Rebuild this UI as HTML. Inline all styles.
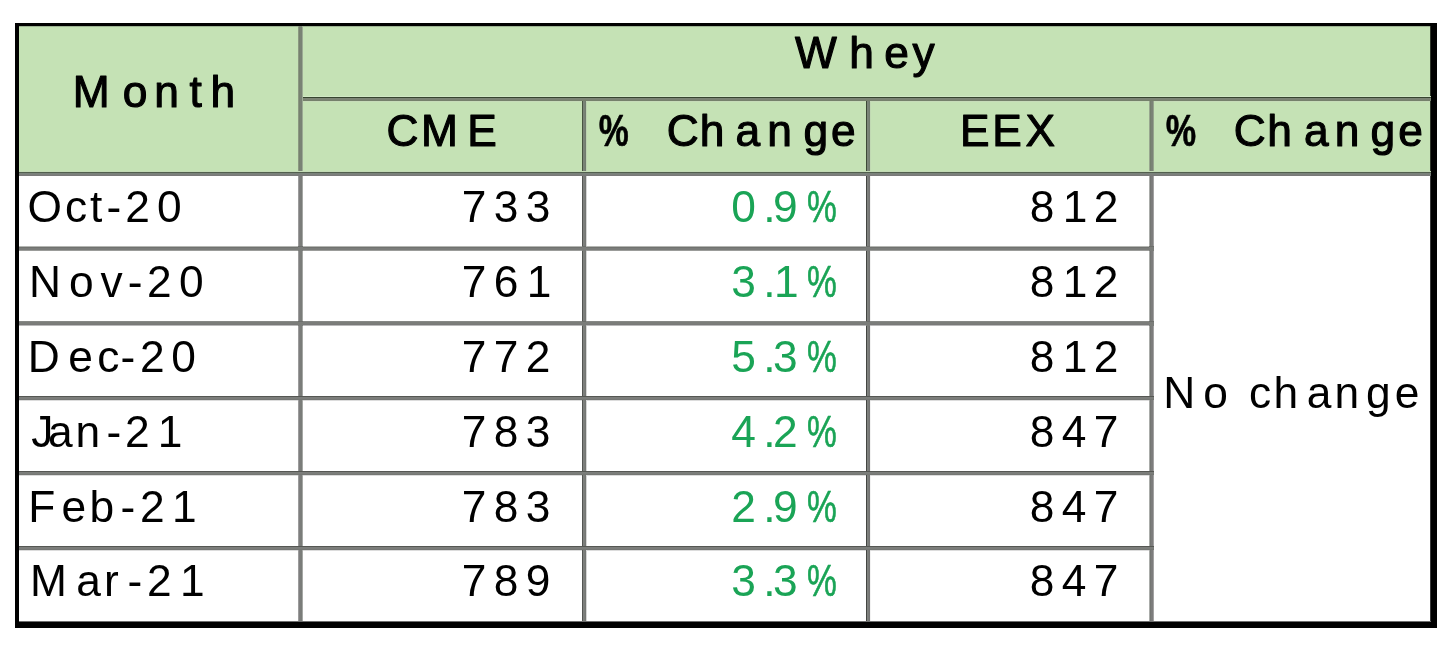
<!DOCTYPE html>
<html lang="en">
<head>
<meta charset="utf-8">
<title>Whey futures - CME vs EEX</title>
<style>
html,body{margin:0;padding:0;background:#fff}
body{width:1454px;height:647px;position:relative;overflow:hidden;
  font-family:"Liberation Sans",sans-serif;color:#000}
table{position:absolute;left:15px;top:23px;width:1422px;
  border-collapse:separate;border-spacing:0;table-layout:fixed;
  border-style:solid;border-color:#000;border-width:3px 6px 6px 4px;will-change:transform}
td,th{padding:0;margin:0;box-sizing:border-box;font-weight:normal;text-align:left;
  vertical-align:top;overflow:visible;line-height:0}
svg{display:block;overflow:visible}
text{font-family:"Liberation Sans",sans-serif;fill:#000;white-space:pre}
text.h{font-size:44.3px;stroke:#000;stroke-width:1.1px;stroke-linejoin:round}
text.m,text.n,text.p{font-size:44.3px}
text.p{fill:#1aa456}
.k1{width:284px;height:150px;background:linear-gradient(to bottom,#c3dab6 0px 1px,#525f4e 1px 2px,#7a827b 2px 3px,#7b7f7b 3px 4px,#7a7a7a 4px 5px) left bottom/100% 5px no-repeat,
    linear-gradient(to right,#8b9881 0px 1px,#77816f 1px 2px,#7a8275 2px 3px,#788274 3px 4px,#9caa94 4px 5px) right top/5px 100% no-repeat,
    linear-gradient(#9eb493,#9eb493) left top/100% 1px no-repeat,
    #c5e2b5}
.k2{width:1128px;height:75px;background:linear-gradient(to bottom,#d1e8c5 0px 1px,#36452f 1px 2px,#7c8474 2px 3px,#7a8272 3px 4px,#75806b 4px 5px) left bottom/100% 5px no-repeat,
    linear-gradient(#2f362b,#2f362b) right top/1px 100% no-repeat,
    linear-gradient(#9eb493,#9eb493) left top/100% 1px no-repeat,
    #c5e2b5}
.k3{width:283px;height:75px;background:linear-gradient(to bottom,#c3dab6 0px 1px,#525f4e 1px 2px,#7a827b 2px 3px,#7b7f7b 3px 4px,#7a7a7a 4px 5px) left bottom/100% 5px no-repeat,
    linear-gradient(to right,#475441 0px 1px,#7b8578 1px 2px,#788276 2px 3px,#727d6f 3px 4px) right top/4px 100% no-repeat,
    linear-gradient(#c7dcb9,#c7dcb9) left top/100% 1px no-repeat,
    #c5e2b5}
.k4{width:284px;height:75px;background:linear-gradient(to bottom,#c3dab6 0px 1px,#525f4e 1px 2px,#7a827b 2px 3px,#7b7f7b 3px 4px,#7a7a7a 4px 5px) left bottom/100% 5px no-repeat,
    linear-gradient(to right,#3c4936 0px 1px,#7c8679 1px 2px,#788276 2px 3px,#727d6f 3px 4px) right top/4px 100% no-repeat,
    linear-gradient(#c7dcb9,#c7dcb9) left top/100% 1px no-repeat,
    linear-gradient(#bdd3b1,#bdd3b1) left top/1px 100% no-repeat,
    #c5e2b5}
.k5{width:284px;height:75px;background:linear-gradient(to bottom,#c3dab6 0px 1px,#525f4e 1px 2px,#7a827b 2px 3px,#7b7f7b 3px 4px,#7a7a7a 4px 5px) left bottom/100% 5px no-repeat,
    linear-gradient(to right,#98a68f 0px 1px,#747e6d 1px 2px,#7a8275 2px 3px,#7b8376 3px 4px,#95a38c 4px 5px) right top/5px 100% no-repeat,
    linear-gradient(#c7dcb9,#c7dcb9) left top/100% 1px no-repeat,
    linear-gradient(#c1d9b3,#c1d9b3) left top/1px 100% no-repeat,
    #c5e2b5}
.k6{width:277px;height:75px;background:linear-gradient(to bottom,#c3dab6 0px 1px,#525f4e 1px 2px,#7a827b 2px 3px,#7b7f7b 3px 4px,#7a7a7a 4px 5px) left bottom/100% 5px no-repeat,
    linear-gradient(#2f362b,#2f362b) right top/1px 100% no-repeat,
    linear-gradient(#c7dcb9,#c7dcb9) left top/100% 1px no-repeat,
    #c5e2b5}
.k7{width:284px;height:75px;background:linear-gradient(to bottom,#6c6e6b 0px 1px,#7b7d7a 1px 5px) right bottom/5px 5px no-repeat,
    linear-gradient(to bottom,#b5b7b3 0px 1px,#70726f 1px 2px,#7b7d7a 2px 3px,#7b7d7a 3px 4px,#9b9c9a 4px 5px) left bottom/100% 5px no-repeat,
    linear-gradient(to right,#9c9c9c 0px 1px,#7e7e7e 1px 2px,#7b7d7a 2px 3px,#7a7c79 3px 4px,#a6a8a5 4px 5px) right top/5px 100% no-repeat,
    #fff}
.k8{width:283px;height:75px;background:linear-gradient(to bottom,#6c6e6b 0px 1px,#7b7d7a 1px 5px) right bottom/4px 5px no-repeat,
    linear-gradient(to bottom,#b5b7b3 0px 1px,#70726f 1px 2px,#7b7d7a 2px 3px,#7b7d7a 3px 4px,#9b9c9a 4px 5px) left bottom/100% 5px no-repeat,
    linear-gradient(to right,#535552 0px 1px,#7f817e 1px 2px,#7b7d7a 2px 3px,#757774 3px 4px) right top/4px 100% no-repeat,
    #fff}
.k9{width:284px;height:75px;background:linear-gradient(to bottom,#6c6e6b 0px 1px,#7b7d7a 1px 5px) right bottom/4px 5px no-repeat,
    linear-gradient(to bottom,#b5b7b3 0px 1px,#70726f 1px 2px,#7b7d7a 2px 3px,#7b7d7a 3px 4px,#9b9c9a 4px 5px) left bottom/100% 5px no-repeat,
    linear-gradient(to right,#434542 0px 1px,#80827f 1px 2px,#797b78 2px 3px,#737373 3px 4px) right top/4px 100% no-repeat,
    linear-gradient(#d6d6d6,#d6d6d6) left top/1px 100% no-repeat,
    #fff}
.k10{width:284px;height:75px;background:linear-gradient(to bottom,#6c6e6b 0px 1px,#7b7d7a 1px 5px) right bottom/5px 5px no-repeat,
    linear-gradient(to bottom,#b5b7b3 0px 1px,#70726f 1px 2px,#7b7d7a 2px 3px,#7b7d7a 3px 4px,#9b9c9a 4px 5px) left bottom/100% 5px no-repeat,
    linear-gradient(to right,#aaaca9 0px 1px,#747673 1px 2px,#7c7c7c 2px 3px,#7d7d7d 3px 4px,#a2a2a2 4px 5px) right top/5px 100% no-repeat,
    linear-gradient(#f2f2f2,#f2f2f2) left top/1px 100% no-repeat,
    #fff}
.k11{width:277px;height:446px;background:linear-gradient(#6e6e6e,#6e6e6e) left bottom/100% 1px no-repeat,
    linear-gradient(#3b3b3b,#3b3b3b) right top/1px 100% no-repeat,
    #fff}
.k12{width:284px;height:75px;background:linear-gradient(to bottom,#6c6e6b 0px 1px,#7b7d7a 1px 5px) right bottom/5px 5px no-repeat,
    linear-gradient(to bottom,#868885 0px 1px,#7b7d7a 1px 2px,#7b7d7a 2px 3px,#797979 3px 4px,#bababa 4px 5px) left bottom/100% 5px no-repeat,
    linear-gradient(to right,#9c9c9c 0px 1px,#7e7e7e 1px 2px,#7b7d7a 2px 3px,#7a7c79 3px 4px,#a6a8a5 4px 5px) right top/5px 100% no-repeat,
    #fff}
.k13{width:283px;height:75px;background:linear-gradient(to bottom,#6c6e6b 0px 1px,#7b7d7a 1px 5px) right bottom/4px 5px no-repeat,
    linear-gradient(to bottom,#868885 0px 1px,#7b7d7a 1px 2px,#7b7d7a 2px 3px,#797979 3px 4px,#bababa 4px 5px) left bottom/100% 5px no-repeat,
    linear-gradient(to right,#535552 0px 1px,#7f817e 1px 2px,#7b7d7a 2px 3px,#757774 3px 4px) right top/4px 100% no-repeat,
    #fff}
.k14{width:284px;height:75px;background:linear-gradient(to bottom,#6c6e6b 0px 1px,#7b7d7a 1px 5px) right bottom/4px 5px no-repeat,
    linear-gradient(to bottom,#868885 0px 1px,#7b7d7a 1px 2px,#7b7d7a 2px 3px,#797979 3px 4px,#bababa 4px 5px) left bottom/100% 5px no-repeat,
    linear-gradient(to right,#434542 0px 1px,#80827f 1px 2px,#797b78 2px 3px,#737373 3px 4px) right top/4px 100% no-repeat,
    linear-gradient(#d6d6d6,#d6d6d6) left top/1px 100% no-repeat,
    #fff}
.k15{width:284px;height:75px;background:linear-gradient(to bottom,#6c6e6b 0px 1px,#7b7d7a 1px 5px) right bottom/5px 5px no-repeat,
    linear-gradient(to bottom,#868885 0px 1px,#7b7d7a 1px 2px,#7b7d7a 2px 3px,#797979 3px 4px,#bababa 4px 5px) left bottom/100% 5px no-repeat,
    linear-gradient(to right,#aaaca9 0px 1px,#747673 1px 2px,#7c7c7c 2px 3px,#7d7d7d 3px 4px,#a2a2a2 4px 5px) right top/5px 100% no-repeat,
    linear-gradient(#f2f2f2,#f2f2f2) left top/1px 100% no-repeat,
    #fff}
.k16{width:284px;height:74px;background:linear-gradient(to bottom,#555753 0px 1px,#7c7e7b 1px 2px,#7b7d7a 2px 3px,#757774 3px 4px) left bottom/100% 4px no-repeat,
    linear-gradient(to right,#9c9c9c 0px 1px,#7e7e7e 1px 2px,#7b7d7a 2px 3px,#7a7c79 3px 4px,#a6a8a5 4px 5px) right top/5px 100% no-repeat,
    #fff}
.k17{width:283px;height:74px;background:linear-gradient(to bottom,#555753 0px 1px,#7c7e7b 1px 2px,#7b7d7a 2px 3px,#757774 3px 4px) left bottom/100% 4px no-repeat,
    linear-gradient(to right,#535552 0px 1px,#7f817e 1px 2px,#7b7d7a 2px 3px,#757774 3px 4px) right top/4px 100% no-repeat,
    #fff}
.k18{width:284px;height:74px;background:linear-gradient(to bottom,#555753 0px 1px,#7c7e7b 1px 2px,#7b7d7a 2px 3px,#757774 3px 4px) left bottom/100% 4px no-repeat,
    linear-gradient(to right,#434542 0px 1px,#80827f 1px 2px,#797b78 2px 3px,#737373 3px 4px) right top/4px 100% no-repeat,
    linear-gradient(#d6d6d6,#d6d6d6) left top/1px 100% no-repeat,
    #fff}
.k19{width:284px;height:74px;background:linear-gradient(to bottom,#555753 0px 1px,#7c7e7b 1px 2px,#7b7d7a 2px 3px,#757774 3px 4px) left bottom/100% 4px no-repeat,
    linear-gradient(to right,#aaaca9 0px 1px,#747673 1px 2px,#7c7c7c 2px 3px,#7d7d7d 3px 4px,#a2a2a2 4px 5px) right top/5px 100% no-repeat,
    linear-gradient(#f2f2f2,#f2f2f2) left top/1px 100% no-repeat,
    #fff}
.k20{width:284px;height:75px;background:linear-gradient(to bottom,#555753 0px 1px,#7c7e7b 1px 2px,#7b7d7a 2px 3px,#757774 3px 4px) left bottom/100% 4px no-repeat,
    linear-gradient(to right,#9c9c9c 0px 1px,#7e7e7e 1px 2px,#7b7d7a 2px 3px,#7a7c79 3px 4px,#a6a8a5 4px 5px) right top/5px 100% no-repeat,
    linear-gradient(#dcdcdc,#dcdcdc) left top/100% 1px no-repeat,
    #fff}
.k21{width:283px;height:75px;background:linear-gradient(to bottom,#555753 0px 1px,#7c7e7b 1px 2px,#7b7d7a 2px 3px,#757774 3px 4px) left bottom/100% 4px no-repeat,
    linear-gradient(to right,#535552 0px 1px,#7f817e 1px 2px,#7b7d7a 2px 3px,#757774 3px 4px) right top/4px 100% no-repeat,
    linear-gradient(#dcdcdc,#dcdcdc) left top/100% 1px no-repeat,
    #fff}
.k22{width:284px;height:75px;background:linear-gradient(to bottom,#555753 0px 1px,#7c7e7b 1px 2px,#7b7d7a 2px 3px,#757774 3px 4px) left bottom/100% 4px no-repeat,
    linear-gradient(to right,#434542 0px 1px,#80827f 1px 2px,#797b78 2px 3px,#737373 3px 4px) right top/4px 100% no-repeat,
    linear-gradient(#dcdcdc,#dcdcdc) left top/100% 1px no-repeat,
    linear-gradient(#d6d6d6,#d6d6d6) left top/1px 100% no-repeat,
    #fff}
.k23{width:284px;height:75px;background:linear-gradient(to bottom,#555753 0px 1px,#7c7e7b 1px 2px,#7b7d7a 2px 3px,#757774 3px 4px) left bottom/100% 4px no-repeat,
    linear-gradient(to right,#aaaca9 0px 1px,#747673 1px 2px,#7c7c7c 2px 3px,#7d7d7d 3px 4px,#a2a2a2 4px 5px) right top/5px 100% no-repeat,
    linear-gradient(#dcdcdc,#dcdcdc) left top/100% 1px no-repeat,
    linear-gradient(#f2f2f2,#f2f2f2) left top/1px 100% no-repeat,
    #fff}
.k24{width:284px;height:72px;background:linear-gradient(#6e6e6e,#6e6e6e) left bottom/100% 1px no-repeat,
    linear-gradient(to right,#9c9c9c 0px 1px,#7e7e7e 1px 2px,#7b7d7a 2px 3px,#7a7c79 3px 4px,#a6a8a5 4px 5px) right top/5px 100% no-repeat,
    linear-gradient(#dcdcdc,#dcdcdc) left top/100% 1px no-repeat,
    #fff}
.k25{width:283px;height:72px;background:linear-gradient(#6e6e6e,#6e6e6e) left bottom/100% 1px no-repeat,
    linear-gradient(to right,#535552 0px 1px,#7f817e 1px 2px,#7b7d7a 2px 3px,#757774 3px 4px) right top/4px 100% no-repeat,
    linear-gradient(#dcdcdc,#dcdcdc) left top/100% 1px no-repeat,
    #fff}
.k26{width:284px;height:72px;background:linear-gradient(#6e6e6e,#6e6e6e) left bottom/100% 1px no-repeat,
    linear-gradient(to right,#434542 0px 1px,#80827f 1px 2px,#797b78 2px 3px,#737373 3px 4px) right top/4px 100% no-repeat,
    linear-gradient(#dcdcdc,#dcdcdc) left top/100% 1px no-repeat,
    linear-gradient(#d6d6d6,#d6d6d6) left top/1px 100% no-repeat,
    #fff}
.k27{width:284px;height:72px;background:linear-gradient(#6e6e6e,#6e6e6e) left bottom/100% 1px no-repeat,
    linear-gradient(to right,#aaaca9 0px 1px,#747673 1px 2px,#7c7c7c 2px 3px,#7d7d7d 3px 4px,#a2a2a2 4px 5px) right top/5px 100% no-repeat,
    linear-gradient(#dcdcdc,#dcdcdc) left top/100% 1px no-repeat,
    linear-gradient(#f2f2f2,#f2f2f2) left top/1px 100% no-repeat,
    #fff}
tspan.pb{font-weight:bold;stroke-width:.6px}
tspan.pg{stroke:#1aa456;stroke-width:.6px}
</style>
</head>
<body>
<table>
<colgroup><col style="width:284px"><col style="width:283px"><col style="width:284px"><col style="width:284px"><col style="width:277px"></colgroup>
<thead>
<tr style="height:75px">
<th rowspan="2" scope="col" class="k1"><svg width="284" height="150" viewBox="0 0 284 150" role="presentation"><text class="h" x="53.7 103.7 135.2 170.5 191.6" y="81.4">Month</text></svg></th>
<th colspan="4" scope="col" class="k2"><svg width="1128" height="75" viewBox="0 0 1128 75" role="presentation"><text class="h" x="492.1 546.2 581.2 609.4" y="42.3">Whey</text></svg></th>
</tr>
<tr style="height:75px">
<th scope="col" class="k3"><svg width="283" height="75" viewBox="0 0 283 75" role="presentation"><text class="h" x="83.6 118.0 164.2" y="45.4">CME</text></svg></th>
<th scope="col" class="k4"><svg width="284" height="75" viewBox="0 0 284 75" role="presentation"><text class="h" x="8.0 47.3 80.7 113.8 149.6 181.3 217.5 245.1" y="45.4"><tspan class="pb" x="12.7" textLength="30.0" lengthAdjust="spacingAndGlyphs">%</tspan> Change</text></svg></th>
<th scope="col" class="k5"><svg width="284" height="75" viewBox="0 0 284 75" role="presentation"><text class="h" x="89.9 122.2 155.4" y="45.4">EEX</text></svg></th>
<th scope="col" class="k6"><svg width="277" height="75" viewBox="0 0 277 75" role="presentation"><text class="h" x="7.1 46.5 79.7 113.2 149.9 180.8 216.6 244.2" y="45.4"><tspan class="pb" x="11.7" textLength="30.4" lengthAdjust="spacingAndGlyphs">%</tspan> Change</text></svg></th>
</tr>
</thead>
<tbody>
<tr style="height:75px">
<th scope="row" class="k7"><svg width="284" height="75" viewBox="0 0 284 75" role="presentation"><text class="m" x="8.5 46.0 71.0 87.5 106.3 137.9" y="46.0">Oct-20</text></svg></th>
<td class="k8"><svg width="283" height="75" viewBox="0 0 283 75" role="presentation"><text class="n" x="158.7 190.7 222.7" y="46.0">733</text></svg></td>
<td class="k9"><svg width="284" height="75" viewBox="0 0 284 75" role="presentation"><text class="p" x="145.2 177.2 187.1 216.3" y="46.0">0.9<tspan class="pg" x="221.1" textLength="29.8" lengthAdjust="spacingAndGlyphs">%</tspan></text></svg></td>
<td class="k10"><svg width="284" height="75" viewBox="0 0 284 75" role="presentation"><text class="n" x="159.7 192.7 223.7" y="46.0">812</text></svg></td>
<td rowspan="6" class="k11"><svg width="277" height="446" viewBox="0 0 277 446" role="presentation"><text class="m" x="9.3 49.2 73.8 95.0 119.4 152.8 180.5 212.1 240.8" y="232.0">No change</text></svg></td>
</tr>
<tr style="height:75px">
<th scope="row" class="k12"><svg width="284" height="75" viewBox="0 0 284 75" role="presentation"><text class="m" x="10.1 49.9 81.6 108.7 128.0 159.9" y="46.0">Nov-20</text></svg></th>
<td class="k13"><svg width="283" height="75" viewBox="0 0 283 75" role="presentation"><text class="n" x="158.7 190.7 223.7" y="46.0">761</text></svg></td>
<td class="k14"><svg width="284" height="75" viewBox="0 0 284 75" role="presentation"><text class="p" x="145.2 177.2 188.1 216.3" y="46.0">3.1<tspan class="pg" x="221.1" textLength="29.8" lengthAdjust="spacingAndGlyphs">%</tspan></text></svg></td>
<td class="k15"><svg width="284" height="75" viewBox="0 0 284 75" role="presentation"><text class="n" x="159.7 192.7 223.7" y="46.0">812</text></svg></td>
</tr>
<tr style="height:74px">
<th scope="row" class="k16"><svg width="284" height="74" viewBox="0 0 284 74" role="presentation"><text class="m" x="8.8 49.3 78.3 101.6 121.1 152.2" y="46.0">Dec-20</text></svg></th>
<td class="k17"><svg width="283" height="74" viewBox="0 0 283 74" role="presentation"><text class="n" x="158.7 190.7 222.7" y="46.0">772</text></svg></td>
<td class="k18"><svg width="284" height="74" viewBox="0 0 284 74" role="presentation"><text class="p" x="145.2 177.2 187.1 216.3" y="46.0">5.3<tspan class="pg" x="221.1" textLength="29.8" lengthAdjust="spacingAndGlyphs">%</tspan></text></svg></td>
<td class="k19"><svg width="284" height="74" viewBox="0 0 284 74" role="presentation"><text class="n" x="159.7 192.7 223.7" y="46.0">812</text></svg></td>
</tr>
<tr style="height:75px">
<th scope="row" class="k20"><svg width="284" height="75" viewBox="0 0 284 75" role="presentation"><text class="m" x="12.3 28.9 56.6 87.5 106.0 138.7" y="47.0">Jan-21</text></svg></th>
<td class="k21"><svg width="283" height="75" viewBox="0 0 283 75" role="presentation"><text class="n" x="158.7 190.7 222.7" y="47.0">783</text></svg></td>
<td class="k22"><svg width="284" height="75" viewBox="0 0 284 75" role="presentation"><text class="p" x="145.2 177.2 187.1 216.3" y="47.0">4.2<tspan class="pg" x="221.1" textLength="29.8" lengthAdjust="spacingAndGlyphs">%</tspan></text></svg></td>
<td class="k23"><svg width="284" height="75" viewBox="0 0 284 75" role="presentation"><text class="n" x="159.7 191.7 223.7" y="47.0">847</text></svg></td>
</tr>
<tr style="height:75px">
<th scope="row" class="k20"><svg width="284" height="75" viewBox="0 0 284 75" role="presentation"><text class="m" x="9.2 42.4 70.6 101.6 121.1 153.1" y="47.0">Feb-21</text></svg></th>
<td class="k21"><svg width="283" height="75" viewBox="0 0 283 75" role="presentation"><text class="n" x="158.7 190.7 222.7" y="47.0">783</text></svg></td>
<td class="k22"><svg width="284" height="75" viewBox="0 0 284 75" role="presentation"><text class="p" x="145.2 177.2 187.1 216.3" y="47.0">2.9<tspan class="pg" x="221.1" textLength="29.8" lengthAdjust="spacingAndGlyphs">%</tspan></text></svg></td>
<td class="k23"><svg width="284" height="75" viewBox="0 0 284 75" role="presentation"><text class="n" x="159.7 191.7 223.7" y="47.0">847</text></svg></td>
</tr>
<tr style="height:72px">
<th scope="row" class="k24"><svg width="284" height="72" viewBox="0 0 284 72" role="presentation"><text class="m" x="11.1 57.3 84.9 108.6 128.0 161.0" y="46.0">Mar-21</text></svg></th>
<td class="k25"><svg width="283" height="72" viewBox="0 0 283 72" role="presentation"><text class="n" x="158.7 190.7 222.7" y="46.0">789</text></svg></td>
<td class="k26"><svg width="284" height="72" viewBox="0 0 284 72" role="presentation"><text class="p" x="145.2 177.2 187.1 216.3" y="46.0">3.3<tspan class="pg" x="221.1" textLength="29.8" lengthAdjust="spacingAndGlyphs">%</tspan></text></svg></td>
<td class="k27"><svg width="284" height="72" viewBox="0 0 284 72" role="presentation"><text class="n" x="159.7 191.7 223.7" y="46.0">847</text></svg></td>
</tr>
</tbody>
</table>
</body>
</html>
